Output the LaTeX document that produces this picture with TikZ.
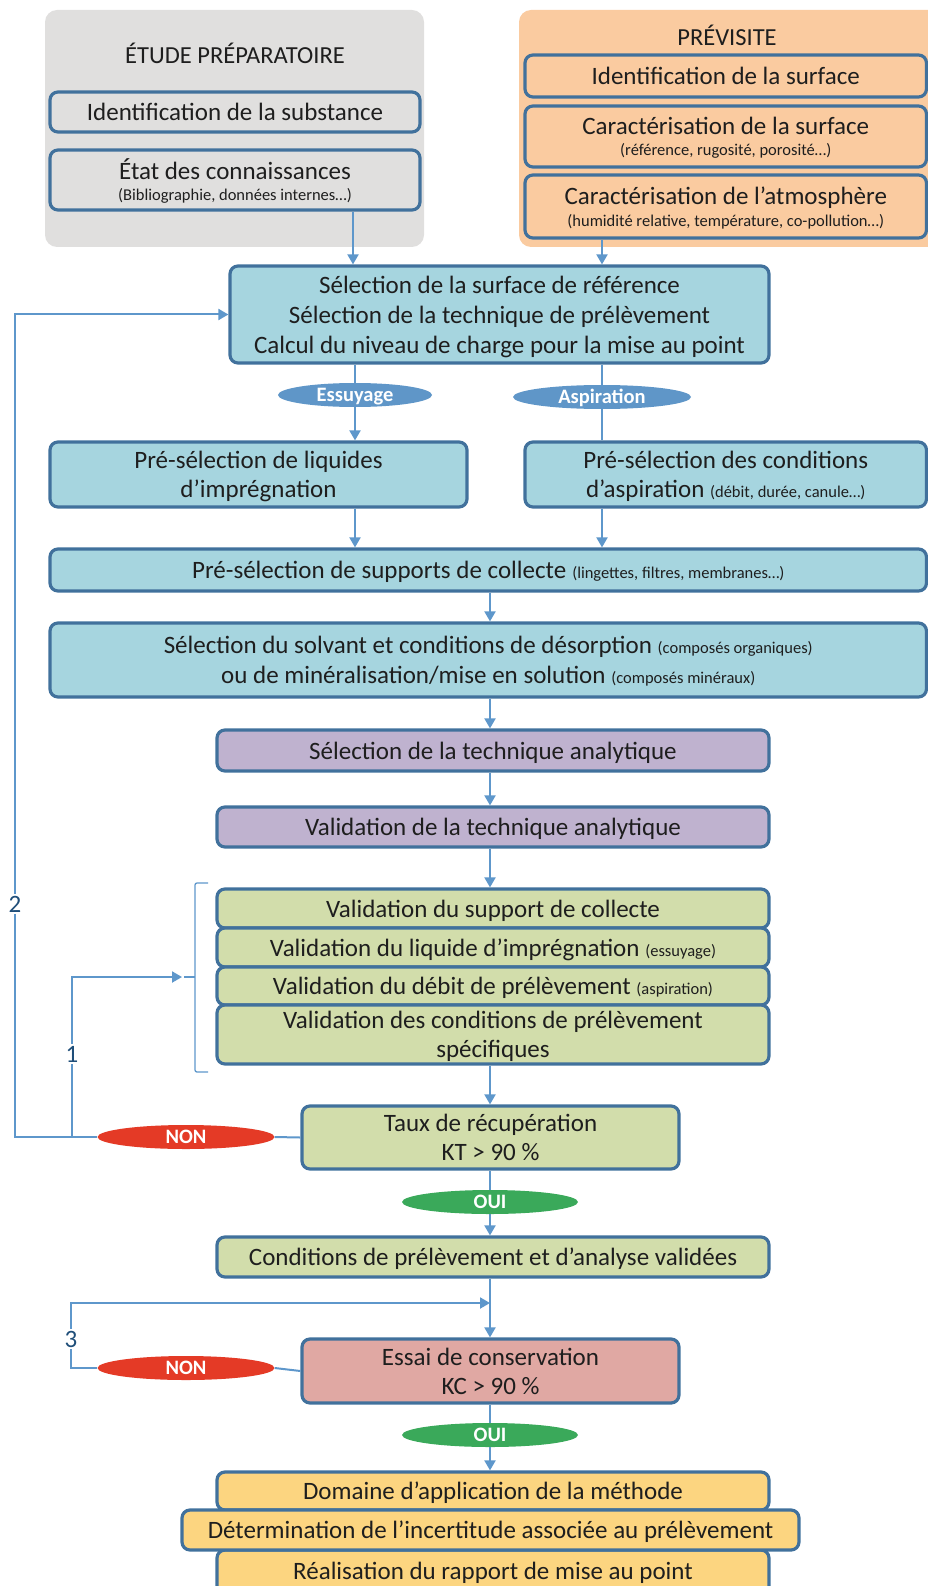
\documentclass[tikz,border=0pt]{standalone}
\usepackage{fontspec}
\setmainfont{Carlito}
\usetikzlibrary{shapes.geometric,arrows.meta,calc}

\definecolor{bordc}{HTML}{41719C}
\definecolor{connc}{HTML}{5E97CB}
\definecolor{ovalc}{HTML}{5F96C8}
\definecolor{greyc}{HTML}{E0DFDE}
\definecolor{orangec}{HTML}{FACBA0}
\definecolor{cyanc}{HTML}{A6D5DF}
\definecolor{purplec}{HTML}{BFB2CF}
\definecolor{greenboxc}{HTML}{D2DDAB}
\definecolor{pinkc}{HTML}{E0A8A3}
\definecolor{yellowc}{HTML}{FCD580}
\definecolor{redc}{HTML}{E43A26}
\definecolor{ouic}{HTML}{3AA95A}
\definecolor{numc}{HTML}{1F4E79}
\definecolor{txtc}{HTML}{1E1E1E}

\newcommand\msz{\fontsize{25}{30}\selectfont}
\newcommand\ssz{\fontsize{16.5}{20}\selectfont}
\newcommand\ovl[1]{\raisebox{-0.32em}[0pt][0pt]{\makebox[0pt]{#1}}}
\newcommand\bx[7]{\node[#1, minimum width={#5-#3}, minimum height={#6-#4}] (#2) at ({(#3+#5)/2},{(#4+#6)/2}) {#7};}

\tikzset{
  box/.style={draw=bordc, line width=3.2pt, rounded corners=8pt, align=center, inner sep=0pt, text=txtc, font=\msz, text depth=-3.5pt},
  greybox/.style={box, fill=greyc},
  orbox/.style={box, fill=orangec},
  cybox/.style={box, fill=cyanc},
  pubox/.style={box, fill=purplec},
  grbox/.style={box, fill=greenboxc},
  pkbox/.style={box, fill=pinkc},
  yebox/.style={box, fill=yellowc},
  connline/.style={draw=connc, line width=2pt},
  arr/.style={-{Triangle[length=10pt,width=11pt]}},
  oval/.style={ellipse, inner sep=0pt, minimum height=24pt, text=white, font=\bfseries\fontsize{20.5}{24}\selectfont},
  num/.style={text=numc, font=\fontsize{25}{28}\selectfont, fill=white, inner sep=2pt},
  title/.style={text=txtc, font=\fontsize{24.5}{30}\selectfont, inner sep=0pt},
}

\begin{document}
\begin{tikzpicture}[x=1pt,y=-1pt]
\useasboundingbox (0,0) rectangle (928,1586);

% group backgrounds
\node[fill=greyc, rounded corners=12pt, minimum width=379, minimum height=237, inner sep=0pt] (etude) at (234.5,128.5) {};
\node[title] (etudet) at (235,53) {ÉTUDE PRÉPARATOIRE};
\node[fill=orangec, rounded corners=12pt, minimum width=421, minimum height=237, inner sep=0pt] (previsite) at (729.5,128.5) {};
\node[title] (previt) at (727,35) {PRÉVISITE};

% boxes
\bx{greybox}{subst}{50}{92}{420}{132}{Identification de la substance}
\bx{greybox}{etat}{50}{150}{420}{210}{État des connaissances\\[-9pt]{\ssz (Bibliographie, données internes…)}}
\bx{orbox}{idsurf}{525}{55}{926.5}{97}{Identification de la surface}
\bx{orbox}{carsurf}{525}{106}{926.5}{167}{Caractérisation de la surface\\[-9pt]{\ssz (référence, rugosité, porosité…)}}
\bx{orbox}{caratm}{525}{175}{926.5}{238}{Caractérisation de l’atmosphère\\[-8pt]{\ssz (humidité relative, température, co-pollution…)}}

\bx{cybox}{sel1}{230}{266}{769}{363}{Sélection de la surface de référence\\Sélection de la technique de prélèvement\\Calcul du niveau de charge pour la mise au point}
\bx{cybox}{liq}{50}{442}{467}{507}{Pré-sélection de liquides\\[-1pt]d’imprégnation}
\bx{cybox}{asp}{525}{442}{926.5}{507}{Pré-sélection des conditions\\[-1pt]d’aspiration {\ssz (débit, durée, canule…)}}
\bx{cybox}{supp}{50}{549}{926.5}{591}{Pré-sélection de supports de collecte\hspace{6pt}{\ssz (lingettes, filtres, membranes…)}}
\bx{cybox}{solv}{50}{623}{926.5}{697}{Sélection du solvant et conditions de désorption {\ssz (composés organiques)}\\ou de minéralisation/mise en solution {\ssz (composés minéraux)}}

\bx{pubox}{techsel}{217}{730}{769}{771}{Sélection de la technique analytique}
\bx{pubox}{techval}{217}{807}{769}{847}{Validation de la technique analytique}

\bx{grbox}{vsupp}{217}{889}{769}{928}{Validation du support de collecte}
\bx{grbox}{vliq}{217}{928}{769}{967}{Validation du liquide d’imprégnation {\ssz (essuyage)}}
\bx{grbox}{vdeb}{217}{967}{769}{1005}{Validation du débit de prélèvement {\ssz (aspiration)}}
\bx{grbox}{vcond}{217}{1005}{769}{1064}{Validation des conditions de prélèvement\\[-1pt]spécifiques}
\bx{grbox}{taux}{302}{1106}{679}{1169}{Taux de récupération\\[-1pt]KT > 90 \%}
\bx{grbox}{valid}{217}{1237}{769}{1277}{Conditions de prélèvement et d’analyse validées}
\bx{pkbox}{essai}{302}{1339}{679}{1403}{Essai de conservation\\[-1pt]KC > 90 \%}
\bx{yebox}{dom}{217}{1472}{769}{1510}{Domaine d’application de la méthode}
\bx{yebox}{real}{217}{1550}{769}{1594}{\raisebox{2pt}{Réalisation du rapport de mise au point}}
\bx{yebox}{det}{182}{1510}{799}{1550}{Détermination de l’incertitude associée au prélèvement}

% ovals
\node[oval, fill=ovalc, minimum width=154pt] (ess) at (355,395) {\ovl{Essuyage}};
\node[oval, fill=ovalc, minimum width=178pt] (aspi) at (602,397) {\ovl{Aspiration}};
\node[oval, fill=redc, minimum width=177pt] (non1) at (186,1137) {\ovl{NON}};
\node[oval, fill=ouic, minimum width=176pt] (oui1) at (490,1202) {\ovl{OUI}};
\node[oval, fill=redc, minimum width=177pt] (non2) at (186,1368) {\ovl{NON}};
\node[oval, fill=ouic, minimum width=176pt] (oui2) at (490,1435) {\ovl{OUI}};

% helper coordinates
\coordinate (xa) at (353,0);
\coordinate (xm) at (490,0);
\coordinate (j2) at (15,1137);
\coordinate (j1) at (72,1137);
\coordinate (bt) at (184,977);
\coordinate (j3a) at (71,1368);
\coordinate (j3b) at (490,1303);

% connectors
\draw[connline,arr] (etat.south -| xa) -- (sel1.north -| xa);
\draw[connline,arr] (caratm.south -| aspi) -- (sel1.north -| aspi);
\draw[connline] (sel1.south -| ess) -- (ess.north);
\draw[connline,arr] (ess.south) -- (liq.north -| ess);
\draw[connline] (sel1.south -| aspi) -- (aspi.north);
\draw[connline] (aspi.south) -- (asp.north -| aspi);
\draw[connline,arr] (liq.south -| ess) -- (supp.north -| ess);
\draw[connline,arr] (asp.south -| aspi) -- (supp.north -| aspi);
\draw[connline,arr] (supp.south -| xm) -- (solv.north -| xm);
\draw[connline,arr] (solv.south -| xm) -- (techsel.north -| xm);
\draw[connline,arr] (techsel.south -| xm) -- (techval.north -| xm);
\draw[connline,arr] (techval.south -| xm) -- (vsupp.north -| xm);
\draw[connline,arr] (vcond.south -| xm) -- (taux.north -| xm);
\draw[connline] (taux.south -| xm) -- (oui1.north);
\draw[connline,arr] (oui1.south) -- (valid.north -| xm);
\draw[connline,arr] (valid.south -| xm) -- (essai.north -| xm);
\draw[connline] (essai.south -| xm) -- (oui2.north);
\draw[connline,arr] (oui2.south) -- (dom.north -| xm);

% loop 2 and 1
\draw[connline] (taux.west) -- (non1.east);
\draw[connline,arr] (non1.west) -- (j2) |- (sel1.west);
\draw[connline,arr,shorten >=2pt] (j1) |- (bt);
\draw[connc, line width=1.3pt, rounded corners=2pt] (208,883) -- (195,883) -- (195,1072) -- (208,1072);
\draw[connc, line width=1.3pt] (bt) -- (195,977);
\node[num] (n2) at (15,904) {2};
\node[num] (n1) at (72,1054) {1};

% loop 3
\draw[connline] (essai.west) -- (non2.east);
\draw[connline,arr] (non2.west) -- (j3a) |- (j3b);
\node[num] (n3) at (71,1339) {3};
\end{tikzpicture}
\end{document}
